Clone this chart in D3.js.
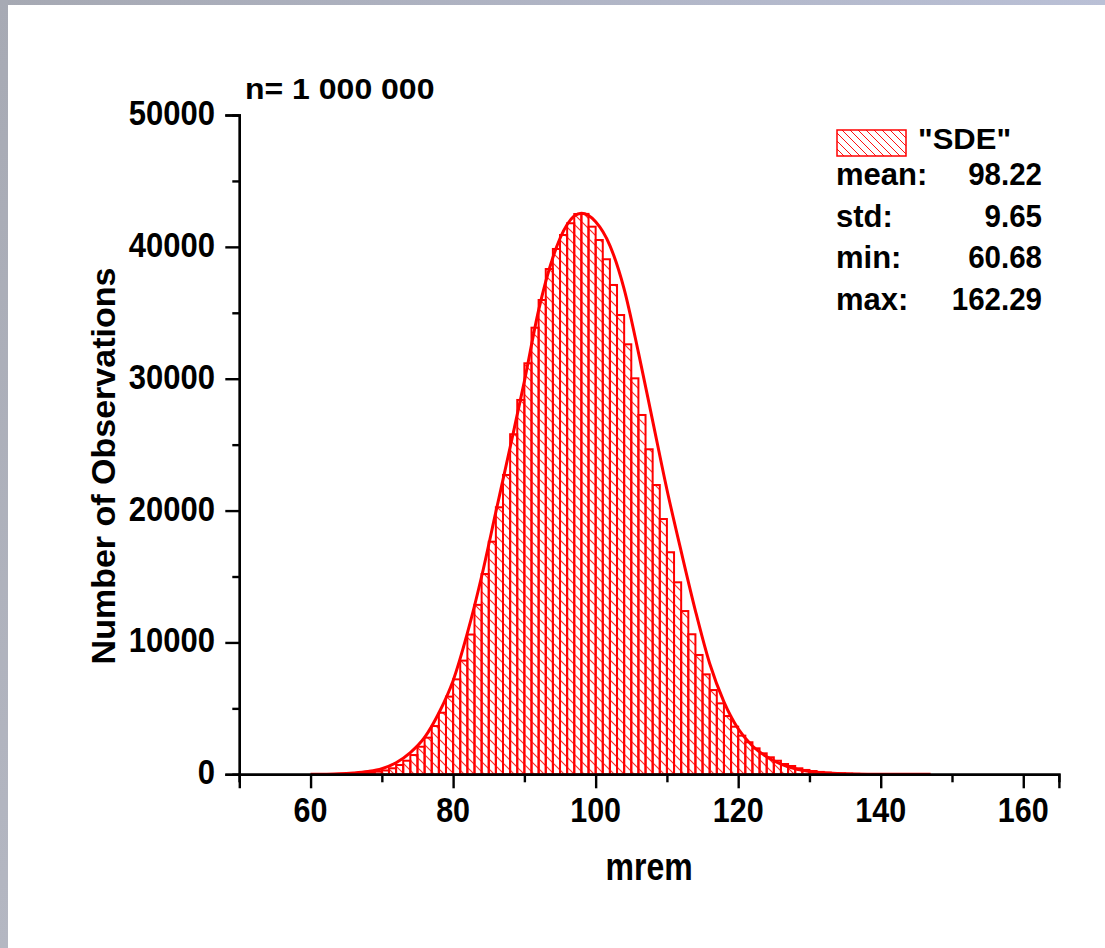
<!DOCTYPE html>
<html>
<head>
<meta charset="utf-8">
<script src="https://cdn.jsdelivr.net/npm/d3@7"></script>
<style>
body { margin:0; background:#fff; }
svg text { font-family:"Liberation Sans", Arial, sans-serif; font-weight:bold; fill:#000; }
</style>
</head>
<body>
<svg id="chart"></svg>
<script>
// histogram bins (lower edge, width 1 mrem) and counts
var binLow = [61,62,63,64,65,66,67,68,69,70,71,72,73,74,75,76,77,78,79,80,
              81,82,83,84,85,86,87,88,89,90,91,92,93,94,95,96,97,98,99,100,
              101,102,103,104,105,106,107,108,109,110,111,112,113,114,115,116,117,118,119,120,
              121,122,123,124,125,126,127,128,129,130,131,132,133,134,135,136,137,138,139,140,
              141,142,143,144,145];
var binCount = [2,4,8,15,28,55,90,140,200,290,455,705,1030,1460,2090,2780,3660,4670,5890,7200,
                8620,10600,12850,15190,17640,20250,22700,25790,28390,31170,33870,35970,38320,39840,40900,41790,42490,42500,41530,40520,
                39060,37110,34830,32610,30030,27250,24650,21940,19360,16840,14560,12380,10620,9050,7580,6390,5380,4420,3610,2930,
                2430,1970,1590,1290,1030,780,630,455,330,250,180,130,95,70,50,35,25,17,12,8,
                5,3,2,1,1];

// fitted curve
var fitX = [60,62,64,66,68,70,72,74,76,78,80,82,84,86,88,90,92,94,96,98,100,
            102,104,106,108,110,112,114,116,118,120,122,124,126,128,130,132,134,136,138,140,144,147];
var fitY = [0,10,35,100,210,420,880,1650,2800,4650,7100,10700,15000,19900,24800,29800,35200,39200,41700,42540,41900,
            40100,36800,32000,26800,21600,16900,12400,8400,5500,3450,2150,1330,780,420,220,110,55,25,10,5,1,0];

var xMajor = [60,80,100,120,140,160];
var xMinor = [50,70,90,110,130,150];
var yMajor = [0,10000,20000,30000,40000,50000];
var yMinor = [5000,15000,25000,35000,45000];

var seriesName = '"SDE"';
var statLabels = ["mean:", "std:", "min:", "max:"];
var statValues = ["98.22", "9.65", "60.68", "162.29"];
var sampleNote = "n= 1 000 000";

var width = 1105, height = 948;

var svg = d3.select("#chart")
    .attr("width", width)
    .attr("height", height);

// grey window frame on the left and top
var defs = svg.append("defs");
var topGrad = defs.append("linearGradient").attr("id", "topGrad");
topGrad.append("stop").attr("offset", "0").attr("stop-color", "#a6a9b3");
topGrad.append("stop").attr("offset", "1").attr("stop-color", "#bac0d6");
var leftGrad = defs.append("linearGradient").attr("id", "leftGrad")
    .attr("x1", 0).attr("x2", 0).attr("y1", 0).attr("y2", 1);
leftGrad.append("stop").attr("offset", "0").attr("stop-color", "#a7aab4");
leftGrad.append("stop").attr("offset", "1").attr("stop-color", "#b4b7c2");

svg.append("rect").attr("x", 0).attr("y", 0).attr("width", width).attr("height", 5)
    .attr("fill", "url(#topGrad)");
svg.append("rect").attr("x", 0).attr("y", 0).attr("width", 8).attr("height", height)
    .attr("fill", "url(#leftGrad)");

// hatch patterns
var hatch = function(id, size, colour, w)
{
    var p = defs.append("pattern")
        .attr("id", id)
        .attr("patternUnits", "userSpaceOnUse")
        .attr("width", size)
        .attr("height", size);
    p.append("path")
        .attr("d", "M" + (-size) + ",0 L" + size + "," + (2 * size) +
                   " M0,0 L" + size + "," + size +
                   " M0," + (-size) + " L" + (2 * size) + "," + size)
        .attr("stroke", colour)
        .attr("stroke-width", w);
}
hatch("barHatch", 10, "#ff2a2a", 1.2);
hatch("legendHatch", 8, "#ff1010", 1);

var xScale = d3.scaleLinear()
    .domain([50, 165])
    .range([239.3, 1058.9]);

var yScale = d3.scaleLinear()
    .domain([0, 50000])
    .range([774.3, 115]);

// bars
var bars = svg.append("g").classed("bars", true);
bars.selectAll("rect")
    .data(binLow)
    .enter()
    .append("rect")
    .attr("x", function(d) { return xScale(d); })
    .attr("width", function(d) { return xScale(d + 1) - xScale(d); })
    .attr("y", function(d, i) { return yScale(binCount[i]); })
    .attr("height", function(d, i) { return yScale(0) - yScale(binCount[i]); })
    .attr("fill", "url(#barHatch)")
    .attr("stroke", "#ff0000")
    .attr("stroke-width", 2);

// fitted curve
var line = d3.line()
    .x(function(d, i) { return xScale(fitX[i]); })
    .y(function(d) { return yScale(d); })
    .curve(d3.curveMonotoneX);

svg.append("path")
    .datum(fitY)
    .attr("d", line)
    .attr("fill", "none")
    .attr("stroke", "#ff0000")
    .attr("stroke-width", 3);

// axes
var xAxis = d3.axisBottom(xScale).tickValues(xMajor).tickSize(14).tickFormat("");
var xAxisMinor = d3.axisBottom(xScale).tickValues(xMinor).tickSize(8).tickFormat("");
var yAxis = d3.axisLeft(yScale).tickValues(yMajor).tickSize(14).tickFormat("");
var yAxisMinor = d3.axisLeft(yScale).tickValues(yMinor).tickSize(7).tickFormat("");

var axes = svg.append("g").classed("axes", true);
axes.append("g").attr("transform", "translate(0," + yScale(0) + ")").call(xAxis);
axes.append("g").attr("transform", "translate(0," + yScale(0) + ")").call(xAxisMinor);
axes.append("g").attr("transform", "translate(" + xScale(50) + ",0)").call(yAxis);
axes.append("g").attr("transform", "translate(" + xScale(50) + ",0)").call(yAxisMinor);
axes.selectAll(".domain").attr("stroke", "#000").attr("stroke-width", 2.4);
axes.selectAll(".tick line").attr("stroke", "#000").attr("stroke-width", 2.4);

// stretched bold text, like the original export
var label = function(parent, txt, x, y, size, sy, anchor)
{
    return parent.append("text")
        .text(txt)
        .attr("text-anchor", anchor)
        .attr("font-size", size)
        .attr("transform", "translate(" + x + "," + y + ") scale(1," + sy + ")");
}

var labels = svg.append("g").classed("labels", true);
xMajor.forEach(function(v) { label(labels, v, xScale(v), 822, 30.5, 1.16, "middle"); });
yMajor.forEach(function(v) { label(labels, v, 215, yScale(v) + 10, 31, 1.14, "end"); });

label(labels, "mrem", (xScale(50) + xScale(165)) / 2, 880, 32, 1.2, "middle");

labels.append("text")
    .text("Number of Observations")
    .attr("text-anchor", "middle")
    .attr("font-size", 34)
    .attr("transform", "translate(115,466) rotate(-90)");

label(labels, sampleNote, 245, 99, 32, 0.94, "start");

// legend
var legend = svg.append("g").classed("legend", true);
legend.append("rect")
    .attr("x", 837).attr("y", 130)
    .attr("width", 69).attr("height", 26)
    .attr("fill", "url(#legendHatch)")
    .attr("stroke", "#ff0000")
    .attr("stroke-width", 1.5);
label(legend, seriesName, 918, 149, 31, 0.95, "start");

statLabels.forEach(function(s, i)
{
    var y = 185 + i * 41.7;
    label(legend, s, 836, y, 31, 1.0, "start");
    label(legend, statValues[i], 1042, y, 29.5, 1.05, "end");
});
</script>
</body>
</html>
